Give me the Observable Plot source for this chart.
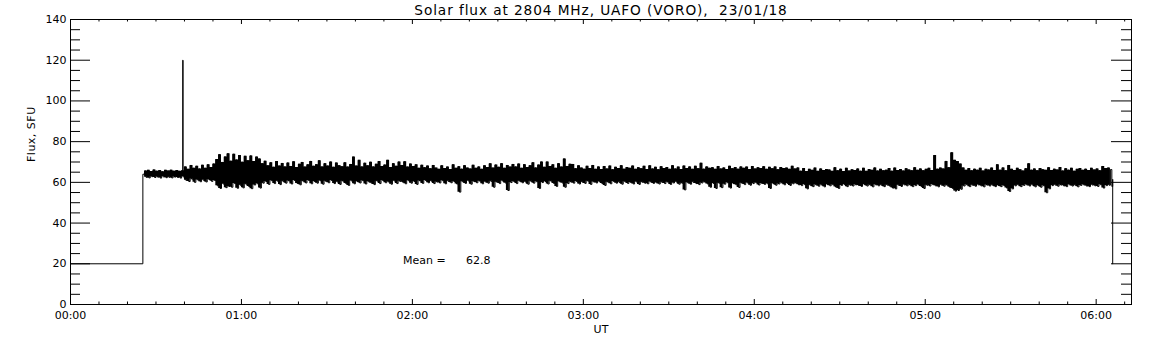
<!DOCTYPE html>
<html><head><meta charset="utf-8">
<script src="https://cdn.jsdelivr.net/npm/d3@7"></script>
<script src="https://cdn.jsdelivr.net/npm/@observablehq/plot@0.6"></script>
<style>
body{margin:0;background:#fff}
svg text{white-space:pre}
</style>
</head><body><div id="chart"></div>
<script>
// ---- texts ----
const titleText = "Solar flux at 2804 MHz, UAFO (VORO),  23/01/18";
const yLabel = "Flux, SFU";
const xLabel = "UT";
const meanLabel = "Mean =";
const meanValue = 62.8;

// ---- axis ticks (x in minutes after 00:00 UT) ----
const xMajor = [0, 60, 120, 180, 240, 300, 360];
const xMajorLabels = ["00:00", "01:00", "02:00", "03:00", "04:00", "05:00", "06:00"];
const xMinor = [10,20,30,40,50,70,80,90,100,110,130,140,150,160,170,190,200,210,220,230,250,260,270,280,290,310,320,330,340,350,370];
const yMajor = [0, 20, 40, 60, 80, 100, 120, 140];
const yMinor = [5,10,15,25,30,35,45,50,55,65,70,75,85,90,95,105,110,115,125,130,135];
const xEnd = 372.4;

// ---- record events (minutes, SFU) ----
const baseLevel = 20;          // level before/after recording
const recordStart = 25.4;      // step up
const startLevel = 64;
const spikeTime = 39.4;
const spikeValue = 120;
const recordEnd = 365.8;       // step down
const endLevel = 61.5;

// ---- per-minute envelope of the noisy flux, minutes 26..365 ----
const fluxFirstMinute = 26;
const fluxHi = [
65.6,65.9,65.3,66.1,65.5,65.8,65.2,65.9,65.6,66.0,
65.5,65.8,65.4,65.7,67.6,66.4,68.3,66.9,67.9,66.6,
68.4,66.9,68.6,67.3,69.0,71.2,73.6,69.8,72.5,74.0,
70.4,73.8,71.0,73.2,69.9,72.8,70.6,73.0,70.2,72.4,
71.5,69.2,70.4,68.1,69.6,67.4,70.2,68.0,69.3,67.6,
69.5,67.8,70.1,67.3,68.9,69.8,67.5,68.6,70.3,67.9,
68.7,70.6,67.6,69.2,68.0,70.0,67.4,69.5,68.2,67.7,
69.6,67.5,68.8,72.4,68.0,70.8,67.6,69.4,68.1,69.9,
67.6,68.9,70.2,67.8,68.5,70.8,67.3,69.2,67.9,70.0,
68.3,70.1,67.5,69.0,67.8,68.6,66.9,68.4,67.2,68.0,
66.7,68.3,67.0,66.4,68.1,66.8,67.5,66.3,68.6,66.9,
67.7,66.5,68.2,67.0,66.6,68.4,66.9,67.6,66.4,68.1,
67.3,69.1,67.0,68.5,67.4,69.2,66.9,68.3,67.5,68.8,
67.6,69.0,66.9,68.7,67.3,68.2,69.6,67.1,68.5,70.0,
67.4,70.0,67.8,68.6,66.9,69.2,67.5,71.5,67.8,68.9,
68.8,66.7,68.1,67.0,66.5,67.9,66.8,68.3,66.4,67.6,
66.3,67.8,66.6,68.0,66.2,67.4,66.8,68.2,66.5,67.3,
66.9,68.0,66.4,67.2,66.7,67.9,66.3,68.1,66.6,67.4,
66.2,67.7,66.8,67.3,66.4,68.2,66.6,67.5,66.3,68.0,
66.8,67.6,66.4,67.9,66.7,69.4,66.5,67.6,66.9,67.2,
66.4,67.8,66.6,67.1,66.3,67.9,66.7,67.3,66.5,67.6,
66.9,67.5,66.3,67.8,66.6,67.2,66.8,67.7,66.4,67.4,
66.7,67.6,66.2,67.3,66.8,67.0,66.4,67.9,66.6,67.1,
65.5,66.8,65.3,66.4,65.9,67.0,65.4,66.6,65.8,66.3,
66.1,65.4,67.2,65.7,66.5,65.3,66.9,65.6,66.2,65.8,
66.6,65.5,66.9,65.4,66.3,65.9,67.1,65.6,66.4,65.7,
66.0,66.8,65.5,67.0,65.8,66.3,65.6,66.7,66.1,65.7,
67.2,65.9,66.6,65.7,66.4,66.9,65.8,73.2,66.5,67.0,
66.6,70.3,67.2,74.5,70.8,70.2,69.0,67.1,65.9,66.8,
65.7,66.5,66.0,66.9,65.6,66.4,66.1,67.0,65.8,68.6,
66.0,67.1,65.7,68.3,66.4,65.8,66.9,66.2,65.6,66.7,
69.1,66.0,66.6,65.7,66.8,66.2,65.9,67.2,65.8,66.5,
66.1,67.3,65.6,66.7,66.0,66.9,65.5,66.4,66.8,65.9,
66.5,65.8,66.9,66.1,66.6,65.7,67.8,66.8,67.0,66.3
];
const fluxLo = [
62.5,62.2,62.8,62.4,62.6,62.1,62.7,62.3,62.5,62.2,
62.6,62.4,62.1,62.7,61.0,60.4,61.6,60.0,61.2,60.3,
61.1,60.2,61.4,60.5,60.9,58.3,57.0,59.2,57.4,58.0,
57.6,59.4,57.1,58.6,57.3,59.1,58.0,56.9,58.7,59.3,
57.2,59.6,60.4,59.0,60.8,59.4,60.6,58.9,60.5,59.6,
60.7,59.2,60.9,59.5,58.8,60.6,59.7,60.9,59.3,60.4,
59.6,60.8,59.1,60.5,59.8,60.9,59.4,60.2,59.0,60.6,
59.5,58.5,60.7,59.3,60.4,59.7,60.8,59.2,60.3,59.6,
58.9,60.6,59.4,60.9,59.8,60.2,59.1,60.7,59.4,60.5,
60.1,59.3,60.8,59.6,60.4,59.0,60.7,59.5,60.9,59.8,
60.6,59.4,60.2,59.7,60.8,59.3,60.5,59.8,60.4,59.2,
55.2,60.3,59.5,60.7,59.1,60.4,59.8,60.6,59.3,60.2,
59.6,60.5,57.6,60.1,59.4,60.7,59.7,56.0,59.9,60.4,
59.4,60.6,59.8,60.2,59.1,60.5,59.6,60.3,57.0,59.9,
60.4,59.2,60.6,59.5,58.0,60.3,59.7,57.6,59.4,60.2,
59.6,60.4,59.2,60.1,59.5,60.6,59.0,60.2,59.7,60.3,
59.4,58.5,60.1,59.3,60.4,59.6,60.0,59.1,60.3,59.5,
59.9,59.2,60.2,59.0,60.1,59.6,59.3,60.2,59.5,59.8,
59.2,60.0,59.4,60.1,59.0,59.7,60.2,59.1,59.6,56.3,
59.8,59.1,60.0,59.4,58.9,59.7,60.1,59.2,57.6,59.5,
57.0,59.6,57.4,59.1,59.8,57.2,59.4,58.8,57.5,59.6,
58.9,59.7,58.6,59.4,59.8,58.7,59.5,59.0,59.3,57.0,
59.4,58.6,59.2,59.7,58.8,59.5,58.5,59.3,59.6,58.8,
58.4,58.9,56.8,58.6,57.9,58.8,58.1,58.7,57.8,58.9,
58.3,58.8,57.7,57.0,58.5,58.9,57.9,58.6,58.2,58.8,
58.5,58.0,58.9,58.2,58.7,57.8,58.8,58.3,58.6,57.9,
58.7,58.1,57.2,56.8,58.6,58.0,58.8,58.3,58.7,57.9,
58.4,58.8,58.0,57.0,58.6,58.2,58.9,58.3,57.8,58.7,
58.1,58.6,57.6,57.0,55.7,56.0,56.6,58.2,58.8,57.9,
58.6,58.1,58.8,58.3,57.8,58.7,58.2,58.6,57.9,58.5,
57.9,58.4,57.2,55.5,56.8,58.3,58.7,57.9,58.5,58.8,
58.2,58.7,57.8,58.5,57.6,58.3,54.9,56.8,58.4,58.7,
58.1,58.7,58.3,57.9,58.8,58.2,58.6,57.8,58.5,58.8,
58.2,57.9,58.7,58.3,58.0,58.8,57.2,58.4,58.6,58.0
];

// ---- build the trace from the arrays ----
const band = fluxHi.map((h, i) => ({t: fluxFirstMinute + i, hi: h, lo: fluxLo[i]}));
const trace = [
  {t: 0, v: baseLevel},
  {t: recordStart, v: baseLevel},
  {t: recordStart, v: startLevel}
];
const noisy = [];
band.forEach(d => {
  noisy.push({t: d.t, v: d.hi});
  noisy.push({t: d.t + 0.5, v: d.lo});
});
noisy.push({t: spikeTime, v: spikeValue});
noisy.sort((a, b) => a.t - b.t);
trace.push(...noisy);
trace.push({t: recordEnd, v: endLevel}, {t: recordEnd, v: baseLevel});

const W = 1152, H = 345, mL = 70, mR = 21, mT = 19, mB = 41;
const iw = W - mL - mR, ih = H - mT - mB;

const chart = Plot.plot({
  width: W, height: H,
  marginLeft: mL, marginRight: mR, marginTop: mT, marginBottom: mB,
  style: {fontFamily: "DejaVu Sans", fontSize: "11px", color: "black", background: "white", overflow: "visible"},
  x: {domain: [0, xEnd]},
  y: {domain: [0, 140]},
  marks: [
    Plot.areaY(band, {x: "t", y1: "lo", y2: "hi", fill: "black", curve: "step-after"}),
    Plot.line(trace, {x: "t", y: "v", stroke: "black", strokeWidth: 1, curve: "step-after"}),
    Plot.frame({stroke: "black"}),
    // inward ticks, all four sides
    Plot.tickY(yMajor, {y: d => d, insetRight: iw - 20, stroke: "black"}),
    Plot.tickY(yMinor, {y: d => d, insetRight: iw - 10, stroke: "black"}),
    Plot.tickY(yMajor, {y: d => d, insetLeft: iw - 20, stroke: "black"}),
    Plot.tickY(yMinor, {y: d => d, insetLeft: iw - 10, stroke: "black"}),
    Plot.tickX(xMajor, {x: d => d, insetTop: ih - 5, stroke: "black"}),
    Plot.tickX(xMinor, {x: d => d, insetTop: ih - 2.5, stroke: "black"}),
    Plot.tickX(xMajor, {x: d => d, insetBottom: ih - 5, stroke: "black"}),
    Plot.tickX(xMinor, {x: d => d, insetBottom: ih - 2.5, stroke: "black"}),
    Plot.axisY({ticks: yMajor, tickSize: 0, tickPadding: 4, label: null, fontSize: 11}),
    Plot.axisX({ticks: xMajor, tickFormat: d => xMajorLabels[xMajor.indexOf(d)], tickSize: 0, tickPadding: 7, label: null, fontSize: 11}),
    Plot.text([titleText], {frameAnchor: "top", dy: -9, lineAnchor: "middle", fontSize: 13.7, fill: "black"}),
    Plot.text([yLabel], {frameAnchor: "left", dx: -39, rotate: -90, lineAnchor: "middle", fontSize: 11, fill: "black"}),
    Plot.text([xLabel], {frameAnchor: "bottom", dy: 25, lineAnchor: "middle", fontSize: 11, fill: "black"}),
    Plot.text([meanLabel], {x: 116.7, y: baseLevel, textAnchor: "start", lineAnchor: "bottom", fontSize: 11, fill: "black"}),
    Plot.text([meanValue], {x: 116.7, y: baseLevel, dx: 63, text: d => d.toFixed(1), textAnchor: "start", lineAnchor: "bottom", fontSize: 11, fill: "black"})
  ]
});
d3.select(chart).selectAll("text").each(function() {
  const s = this.textContent;
  if (s === titleText) this.setAttribute("letter-spacing", "0.9");
  if (s === yLabel) this.setAttribute("letter-spacing", "0.5");
});
document.getElementById("chart").appendChild(chart);
</script>
</body></html>
